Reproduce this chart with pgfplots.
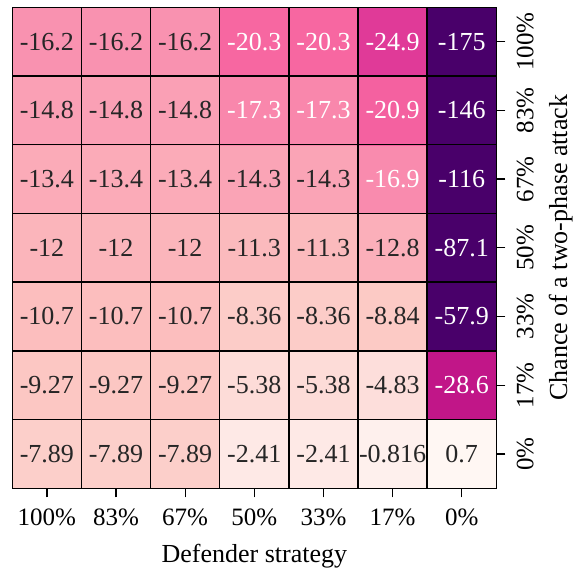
\documentclass[border=0pt]{standalone}
\usepackage{pgfplots}
\pgfplotsset{compat=1.18}
\usepackage{fontspec}
\setmainfont{Liberation Serif}
\definecolor{darktext}{HTML}{262626}
\begin{document}
\begin{tikzpicture}
\path (0,0) rectangle (574pt,567pt);
\begin{axis}[
  at={(12.3pt,78.7pt)}, anchor=south west,
  scale only axis, width=484pt, height=481pt,
  xmin=-0.5, xmax=6.5, ymin=-0.5, ymax=6.5,
  xtick={0,...,6}, xticklabels={100\%,83\%,67\%,50\%,33\%,17\%,0\%},
  ytick={0,...,6}, yticklabels={0\%,17\%,33\%,50\%,67\%,83\%,100\%},
  xtick pos=bottom, ytick pos=right, yticklabel pos=right,
  tick align=outside, major tick length=9pt,
  major tick style={black, line width=1.3pt},
  minor xtick={0.5,1.5,...,5.5}, minor ytick={0.5,1.5,...,5.5},
  minor tick length=0pt, grid=minor,
  minor grid style={black, line width=1.4pt},
  axis line style={black, line width=1.4pt},
  axis on top,
  colormap={RdPuR}{rgb255=(73,0,106) rgb255=(122,1,119) rgb255=(174,1,126) rgb255=(221,52,151) rgb255=(247,104,161) rgb255=(250,159,181) rgb255=(252,197,192) rgb255=(253,224,221) rgb255=(255,247,243)},
  point meta min=-41.2, point meta max=0.7,
  tick label style={font=\fontsize{25}{30}\selectfont},
  xticklabel style={yshift=-8pt},
  yticklabel style={xshift=8pt, rotate=90, anchor=north},
  label style={font=\fontsize{26}{31}\selectfont, inner sep=0pt},
  xlabel={Defender strategy},
  xlabel style={at={(axis description cs:0.5,0)}, anchor=center, yshift=-67.8pt},
  ylabel={Chance of a two-phase attack},
  ylabel style={at={(axis description cs:1.133,0.5)}, anchor=center},
]
\addplot[matrix plot*, mesh/cols=7, point meta=explicit] table[x=x, y=y, meta=c] {
x y c v
0 0 -7.89 -7.89
1 0 -7.89 -7.89
2 0 -7.89 -7.89
3 0 -2.41 -2.41
4 0 -2.41 -2.41
5 0 -0.816 -0.816
6 0 0.7 0.7
0 1 -9.27 -9.27
1 1 -9.27 -9.27
2 1 -9.27 -9.27
3 1 -5.38 -5.38
4 1 -5.38 -5.38
5 1 -4.83 -4.83
6 1 -28.6 -28.6
0 2 -10.7 -10.7
1 2 -10.7 -10.7
2 2 -10.7 -10.7
3 2 -8.36 -8.36
4 2 -8.36 -8.36
5 2 -8.84 -8.84
6 2 -41.2 -57.9
0 3 -12 -12
1 3 -12 -12
2 3 -12 -12
3 3 -11.3 -11.3
4 3 -11.3 -11.3
5 3 -12.8 -12.8
6 3 -41.2 -87.1
0 4 -13.4 -13.4
1 4 -13.4 -13.4
2 4 -13.4 -13.4
3 4 -14.3 -14.3
4 4 -14.3 -14.3
5 4 -16.9 -16.9
6 4 -41.2 -116
0 5 -14.8 -14.8
1 5 -14.8 -14.8
2 5 -14.8 -14.8
3 5 -17.3 -17.3
4 5 -17.3 -17.3
5 5 -20.9 -20.9
6 5 -41.2 -146
0 6 -16.2 -16.2
1 6 -16.2 -16.2
2 6 -16.2 -16.2
3 6 -20.3 -20.3
4 6 -20.3 -20.3
5 6 -24.9 -24.9
6 6 -41.2 -175
};
\addplot[draw=none, mark=none, nodes near coords, point meta=explicit symbolic,
  nodes near coords align=center,
  every node near coord/.append style={font=\fontsize{26}{31}\selectfont, text=darktext, anchor=center, inner sep=0pt}]
  table[x=x, y=y, meta=t] {
x y t
0 0 -7.89
1 0 -7.89
2 0 -7.89
3 0 -2.41
4 0 -2.41
5 0 -0.816
6 0 0.7
0 1 -9.27
1 1 -9.27
2 1 -9.27
3 1 -5.38
4 1 -5.38
5 1 -4.83
0 2 -10.7
1 2 -10.7
2 2 -10.7
3 2 -8.36
4 2 -8.36
5 2 -8.84
0 3 -12
1 3 -12
2 3 -12
3 3 -11.3
4 3 -11.3
5 3 -12.8
0 4 -13.4
1 4 -13.4
2 4 -13.4
3 4 -14.3
4 4 -14.3
0 5 -14.8
1 5 -14.8
2 5 -14.8
0 6 -16.2
1 6 -16.2
2 6 -16.2
};
\addplot[draw=none, mark=none, nodes near coords, point meta=explicit symbolic,
  nodes near coords align=center,
  every node near coord/.append style={font=\fontsize{26}{31}\selectfont, text=white, anchor=center, inner sep=0pt}]
  table[x=x, y=y, meta=t] {
x y t
6 1 -28.6
6 2 -57.9
6 3 -87.1
5 4 -16.9
6 4 -116
3 5 -17.3
4 5 -17.3
5 5 -20.9
6 5 -146
3 6 -20.3
4 6 -20.3
5 6 -24.9
6 6 -175
};
\end{axis}
\end{tikzpicture}
\end{document}
